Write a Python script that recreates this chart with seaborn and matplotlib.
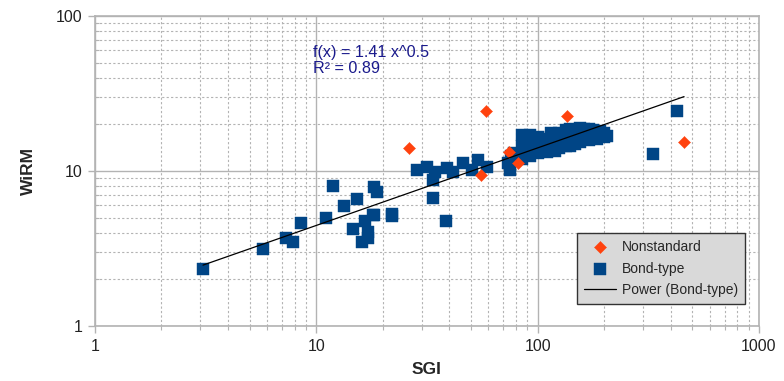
import numpy as np
import pandas as pd
import matplotlib
matplotlib.use("Agg")
import matplotlib.pyplot as plt
from matplotlib.ticker import LogLocator, FixedLocator, FixedFormatter, NullFormatter
import seaborn as sns

# ---- data ----
bond_x = [3.08, 5.74, 7.30, 7.85, 8.53, 11.06, 11.9, 13.3, 15.3, 14.6, 16.6, 18.0, 17.1, 17.1, 16.1,
          22.0, 22.0, 18.2, 18.8, 18.2,
          28.5, 31.6, 34.4, 33.7, 33.7, 39.0, 38.6, 41.5, 46.0, 50.5, 53.8, 59.0, 73.5, 75.0, 76.0, 78.0,
          85, 85, 85, 88, 88, 92, 92, 92, 96, 96, 100, 100, 100, 105, 105, 110, 110,
          115, 115, 115, 120, 120, 125, 125, 125, 130, 130, 135, 135, 140, 140, 140,
          148, 148, 155, 155, 155, 162, 162, 170, 170, 170, 178, 178, 185, 185, 192, 192,
          200, 200, 205, 332, 426]
bond_y = [2.33, 3.14, 3.70, 3.48, 4.62, 4.97, 8.0, 5.95, 6.6, 4.22, 4.76, 5.20, 4.04, 3.70, 3.48,
          5.12, 5.25, 7.9, 7.32, 5.2,
          10.15, 10.6, 9.86, 8.77, 6.7, 10.46, 4.75, 9.86, 11.27, 10.15, 11.8, 10.6, 11.27, 10.15, 12.5, 13.0,
          12.0, 14.5, 17.0, 13.0, 16.5, 12.5, 15.0, 17.2, 14.0, 16.0, 13.0, 15.5, 16.5, 13.5, 15.5, 13.2, 16.2,
          13.8, 16.5, 17.5, 13.5, 15.0, 14.0, 16.0, 17.5, 15.0, 17.0, 14.5, 18.5, 14.5, 16.0, 18.8,
          15.0, 17.5, 15.5, 16.5, 19.0, 16.0, 18.8, 15.8, 17.0, 18.8, 16.5, 18.5, 16.2, 17.5, 17.0, 18.2,
          16.5, 17.5, 16.8, 12.9, 24.4]
nonstd_x = [26.2, 58.5, 55.5, 74.5, 81.7, 136, 459]
nonstd_y = [14.1, 24.4, 9.42, 13.2, 11.3, 22.6, 15.4]
fit_a, fit_b = 1.41, 0.5
x_ticks = [1, 10, 100, 1000]
x_ticklabels = ["1", "10", "100", "1000"]
y_ticks = [1, 10, 100]
y_ticklabels = ["1", "10", "100"]

df = pd.DataFrame({
    "SGI": nonstd_x + bond_x,
    "WiRM": nonstd_y + bond_y,
    "Series": ["Nonstandard"] * len(nonstd_x) + ["Bond-type"] * len(bond_x),
})

sns.set_theme(style="white")
plt.rcParams["font.family"] = ["Liberation Sans", "DejaVu Sans"]

fig = plt.figure(figsize=(7.84, 3.81), dpi=100)
ax = fig.add_axes([0.121, 0.144, 0.847, 0.814])
ax.set_xscale("log")
ax.set_yscale("log")
ax.set_xlim(1, 1000)
ax.set_ylim(1, 100)

gc = "#b3b3b3"
ax.grid(True, which="major", color=gc, lw=1.0, ls="-")
ax.grid(True, which="minor", color=gc, lw=0.8, ls=(0, (2, 2)))
ax.set_axisbelow(True)

orange = "#ff420e"
blue = "#004586"

sns.scatterplot(data=df[df.Series == "Bond-type"], x="SGI", y="WiRM", marker="s", s=80,
                color=blue, edgecolor=blue, linewidth=0.3, ax=ax, label="Bond-type", zorder=3)
sns.scatterplot(data=df[df.Series == "Nonstandard"], x="SGI", y="WiRM", marker="D", s=38,
                color=orange, edgecolor=orange, linewidth=0.3, ax=ax, label="Nonstandard", zorder=4)

xl = np.geomspace(min(df.SGI), max(df.SGI), 100)
ax.plot(xl, fit_a * xl ** fit_b, color="black", lw=0.9, label="Power (Bond-type)", zorder=5)

ax.xaxis.set_major_locator(FixedLocator(x_ticks))
ax.xaxis.set_major_formatter(FixedFormatter(x_ticklabels))
ax.yaxis.set_major_locator(FixedLocator(y_ticks))
ax.yaxis.set_major_formatter(FixedFormatter(y_ticklabels))
ax.xaxis.set_minor_locator(LogLocator(base=10, subs=np.arange(2, 10)))
ax.yaxis.set_minor_locator(LogLocator(base=10, subs=np.arange(2, 10)))
ax.xaxis.set_minor_formatter(NullFormatter())
ax.yaxis.set_minor_formatter(NullFormatter())
ax.tick_params(which="major", length=5, width=1, color=gc, labelsize=11.5, labelcolor="#222222", pad=4)
ax.tick_params(which="minor", length=3, width=0.8, color=gc)
ax.tick_params(axis="x", which="both", direction="out", bottom=True)
ax.tick_params(axis="y", which="major", direction="out", left=True)
ax.tick_params(axis="y", which="minor", direction="in", left=True)

for sp in ax.spines.values():
    sp.set_color(gc)
    sp.set_linewidth(1.2)

ax.set_xlabel("SGI", fontsize=12.5, fontweight="bold", labelpad=6)
ax.set_ylabel("WiRM", fontsize=12.5, fontweight="bold", labelpad=14)

ax.text(0.329, 0.905, "f(x) = 1.41 x^0.5\nR² = 0.89", transform=ax.transAxes,
        fontsize=11.6, color="#1a1a8c", va="top", ha="left", linespacing=1.05)

h, l = ax.get_legend_handles_labels()
order = [l.index("Nonstandard"), l.index("Bond-type"), l.index("Power (Bond-type)")]
leg = ax.legend([h[i] for i in order], [l[i] for i in order], loc="lower right",
                bbox_to_anchor=(0.979, 0.071), borderaxespad=0, fontsize=10, frameon=True,
                fancybox=False, facecolor="#d9d9d9", edgecolor="#333333", framealpha=1.0,
                handlelength=2.3, borderpad=0.5, labelspacing=0.55, handletextpad=0.4)
leg.get_frame().set_linewidth(1.0)

fig.savefig("out.png", dpi=100)
